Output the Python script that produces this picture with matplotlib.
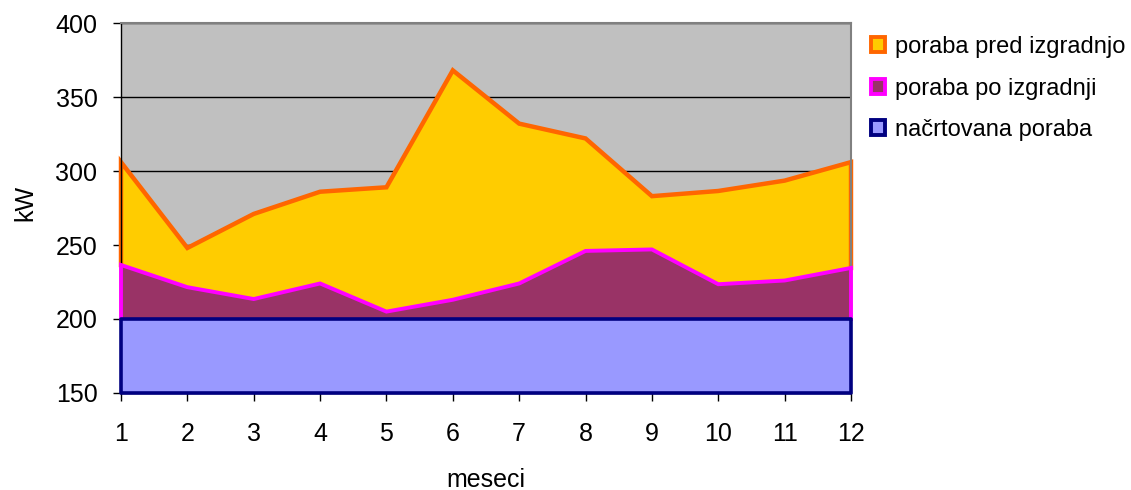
import matplotlib
matplotlib.use("Agg")
import matplotlib.pyplot as plt
from matplotlib.patches import Patch

plt.rcParams['font.family'] = ['Liberation Sans', 'DejaVu Sans']

# monthly power demand (kW)
months = [1, 2, 3, 4, 5, 6, 7, 8, 9, 10, 11, 12]
before = [306, 248, 271, 286, 289, 368, 332, 322, 283, 286.5, 293.5, 306]
after = [236.5, 221.5, 213.5, 224, 205, 213, 224, 246, 247, 223.5, 226, 234.5]
planned = [200] * 12

labels = ['poraba pred izgradnjo', 'poraba po izgradnji', 'načrtovana poraba']
y_ticks = [150, 200, 250, 300, 350, 400]

FS = 17
TICK_FS = 18
BASE = 150

fig = plt.figure(figsize=(11.31, 4.9), dpi=100)
ax = fig.add_axes([121 / 1131, 1 - 393 / 490, 730 / 1131, 370 / 490])
ax.set_facecolor('#C0C0C0')

# before construction
ax.fill_between(months, BASE, before, facecolor='#FFCC00', edgecolor='none', zorder=1)
ax.plot([months[0]] + months + [months[-1]], [after[0]] + before + [after[-1]],
        color='#FF6600', lw=3.2, zorder=2, clip_on=False, solid_joinstyle='miter')

# after construction
ax.fill_between(months, BASE, after, facecolor='#993366', edgecolor='none', zorder=3)
ax.plot([months[0]] + months + [months[-1]], [planned[0]] + after + [planned[-1]],
        color='#FF00FF', lw=2.8, zorder=4, clip_on=False, solid_joinstyle='miter')

# planned
ax.fill_between(months, BASE, planned, facecolor='#9999FF', edgecolor='#000080',
                lw=2.6, zorder=5, clip_on=False)

ax.set_xlim(1, 12)
ax.set_ylim(150, 400)
ax.set_xticks(months)
ax.set_yticks(y_ticks)
ax.tick_params(axis='x', direction='out', length=6, width=1, pad=15, labelsize=TICK_FS, colors='black')
ax.tick_params(axis='y', direction='out', length=6, width=1, pad=11, labelsize=TICK_FS, colors='black')

ax.set_axisbelow(True)
ax.yaxis.grid(True, color='black', lw=1)
ax.xaxis.grid(False)

for side in ('top', 'right'):
    ax.spines[side].set_color('#808080')
    ax.spines[side].set_linewidth(1.5)
for side in ('left', 'bottom'):
    ax.spines[side].set_color('black')
    ax.spines[side].set_linewidth(1)

fig.text(486 / 1131, 1 - 487 / 490, 'meseci', ha='center', va='baseline', fontsize=TICK_FS)
fig.text(25 / 1131, 1 - 203 / 490, 'kW', ha='center', va='center', rotation=90, fontsize=TICK_FS)

handles = [
    Patch(facecolor='#FFCC00', edgecolor='#FF6600', lw=2.8),
    Patch(facecolor='#993366', edgecolor='#FF00FF', lw=2.8),
    Patch(facecolor='#9999FF', edgecolor='#000080', lw=2.8),
]
fig.legend(handles, labels, loc='upper left', bbox_to_anchor=(871 / 1131, 1 - 36 / 490),
           bbox_transform=fig.transFigure, frameon=False, fontsize=FS,
           handlelength=0.6, handleheight=0.6, handletextpad=0.4,
           labelspacing=0.83, borderpad=0, borderaxespad=0)

fig.savefig('out.png', dpi=100)
